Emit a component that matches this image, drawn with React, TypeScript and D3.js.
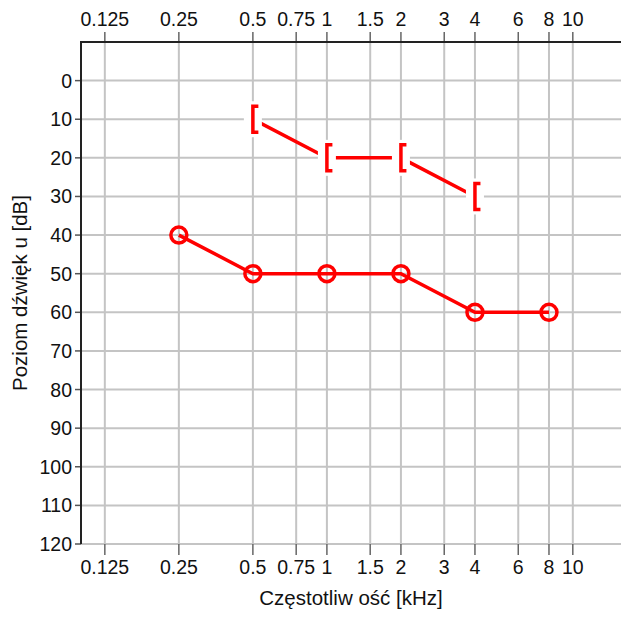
import React from "react";
import * as d3 from "d3";

const freqTicks = [0.125, 0.25, 0.5, 0.75, 1, 1.5, 2, 3, 4, 6, 8, 10];
const freqTickLabels = ["0.125", "0.25", "0.5", "0.75", "1", "1.5", "2", "3", "4", "6", "8", "10"];
const dbTicks = [0, 10, 20, 30, 40, 50, 60, 70, 80, 90, 100, 110, 120];

const airFreqs = [0.25, 0.5, 1, 2, 4, 8];
const airValues = [40, 50, 50, 50, 60, 60];

const boneFreqs = [0.5, 1, 2, 4];
const boneValues = [10, 20, 20, 30];

const W = 621;
const H = 619;
const left = 81;
const right = 623;
const top = 42;
const bottom = 544;
const RED = "#ff0000";
const FONT = "'Liberation Sans', Arial, sans-serif";

export default function App() {
  const x = d3.scaleLog().domain([0.1, 16]).range([left, right]);
  const y = d3.scaleLinear().domain([-10, 120]).range([top, bottom]);

  const line = d3
    .line<[number, number]>()
    .x((d) => x(d[0]))
    .y((d) => y(d[1]));

  const airPts: [number, number][] = airFreqs.map((f, i) => [f, airValues[i]]);
  const bonePts: [number, number][] = boneFreqs.map((f, i) => [f, boneValues[i]]);

  return (
    <svg
      width={W}
      height={H}
      style={{ position: "absolute", left: 0, top: 0, background: "#fff" }}
      fontFamily={FONT}
    >
      <rect x={0} y={0} width={W} height={H} fill="#fff" />
      {/* grid */}
      {dbTicks.map((d) => (
        <line key={"h" + d} x1={left} x2={right} y1={y(d)} y2={y(d)} stroke="#c4c4c4" strokeWidth={2} />
      ))}
      {freqTicks.map((f) => (
        <line key={"v" + f} x1={x(f)} x2={x(f)} y1={top} y2={bottom} stroke="#c4c4c4" strokeWidth={2} />
      ))}
      {/* ticks */}
      {freqTicks.map((f) => (
        <g key={"t" + f}>
          <line x1={x(f)} x2={x(f)} y1={top - 10} y2={top} stroke="#666" strokeWidth={1.5} />
          <line x1={x(f)} x2={x(f)} y1={bottom} y2={bottom + 11} stroke="#666" strokeWidth={1.5} />
        </g>
      ))}
      {dbTicks.map((d) => (
        <line key={"yt" + d} x1={left - 6} x2={left} y1={y(d)} y2={y(d)} stroke="#555" strokeWidth={1.5} />
      ))}
      {/* axes */}
      <line x1={left} x2={right} y1={top} y2={top} stroke="#222" strokeWidth={2} />
      <line x1={left} x2={left} y1={top - 1} y2={bottom} stroke="#222" strokeWidth={2} />

      {/* labels */}
      {freqTicks.map((f, i) => (
        <g key={"l" + f}>
          <text x={x(f)} y={26} fontSize={19.5} textAnchor="middle" fill="#111">
            {freqTickLabels[i]}
          </text>
          <text x={x(f)} y={574} fontSize={19.5} textAnchor="middle" fill="#111">
            {freqTickLabels[i]}
          </text>
        </g>
      ))}
      {dbTicks.map((d) => (
        <text key={"yl" + d} x={72} y={y(d)} dy="0.36em" fontSize={19.5} textAnchor="end" fill="#111">
          {d}
        </text>
      ))}
      <text x={351} y={605} fontSize={20.5} textAnchor="middle" fill="#111">
        Częstotliw ość [kHz]
      </text>
      <text
        transform={`translate(27, ${(top + bottom) / 2}) rotate(-90)`}
        fontSize={20.5}
        textAnchor="middle"
        fill="#111"
      >
        Poziom dźwięk u [dB]
      </text>

      {/* bone conduction */}
      <path d={line(bonePts) || ""} fill="none" stroke={RED} strokeWidth={3.5} />
      {bonePts.map((p, i) => (
        <rect key={"br" + i} x={x(p[0]) - 9} y={y(p[1]) - 18} width={18} height={36} fill="#fff" />
      ))}
      {bonePts.map((p, i) => {
        const cx = x(p[0]);
        const cy = y(p[1]);
        return (
          <path
            key={"b" + i}
            d={`M${cx + 5.5},${cy - 13} H${cx} V${cy + 13} H${cx + 5.5}`}
            fill="none"
            stroke={RED}
            strokeWidth={3.5}
          />
        );
      })}

      {/* air conduction */}
      <path d={line(airPts) || ""} fill="none" stroke={RED} strokeWidth={3.5} />
      {airPts.map((p, i) => (
        <circle key={"a" + i} cx={x(p[0])} cy={y(p[1])} r={8} fill="none" stroke={RED} strokeWidth={3.5} />
      ))}
    </svg>
  );
}
